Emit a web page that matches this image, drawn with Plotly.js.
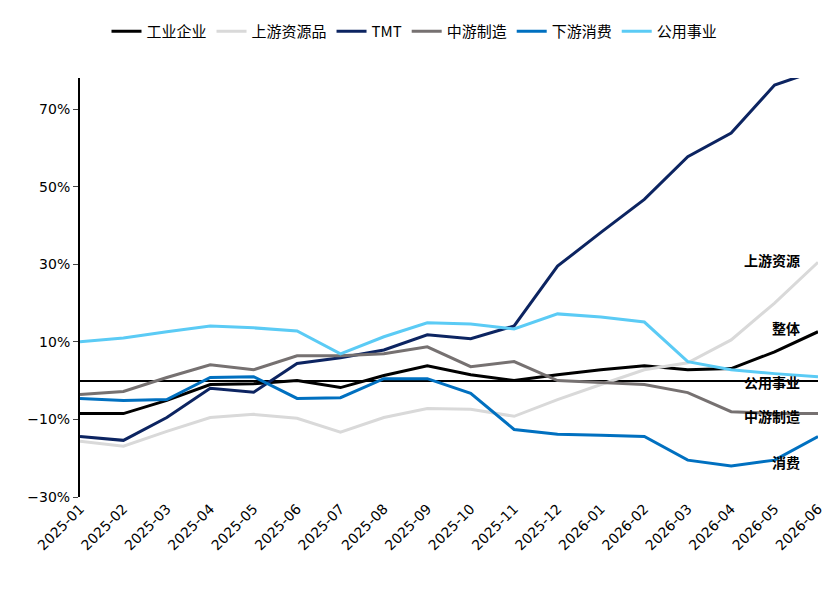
<!DOCTYPE html>
<html><head><meta charset="utf-8">
<script src="https://cdn.plot.ly/plotly-3.0.1.min.js"></script>
<style>body{margin:0}</style></head>
<body><div id="c" style="width:829px;height:604px"></div>
<script>
const months=["2025-01","2025-02","2025-03","2025-04","2025-05","2025-06","2025-07","2025-08","2025-09","2025-10","2025-11","2025-12","2026-01","2026-02","2026-03","2026-04","2026-05","2026-06"];
const industrial=[-8.5,-8.5,-5.1,-1,-0.8,0,-1.8,1.3,3.8,1.5,0,1.5,2.8,3.8,2.8,3.1,7.4,12.6];
const upstream=[-15.6,-16.9,-13.1,-9.5,-8.7,-9.7,-13.3,-9.5,-7.2,-7.4,-9.2,-4.9,-1,2.8,4.6,10.5,20,30.5];
const tmt=[-14.4,-15.4,-9.5,-2,-3,4.4,5.9,7.9,11.8,10.8,14.1,29.5,38.2,46.7,57.7,63.8,76.2,80];
const midstream=[-3.6,-2.8,0.8,4.1,2.8,6.4,6.4,6.9,8.7,3.6,4.9,0,-0.5,-1,-3.1,-8,-8.5,-8.5];
const downstream=[-4.6,-5.1,-4.9,0.8,1,-4.6,-4.4,0.5,0.5,-3.3,-12.6,-13.8,-14.1,-14.4,-20.5,-22,-20.5,-14.4];
const utilities=[10,11,12.6,14.1,13.6,12.8,6.9,11.3,14.9,14.6,13.3,17.2,16.4,15.1,4.9,2.8,1.8,1];
const names=["工业企业","上游资源品","TMT","中游制造","下游消费","公用事业"];
const series=[industrial,upstream,tmt,midstream,downstream,utilities];
const colors=["#000000","#d9d9d9","#0c2461","#767171","#0070c0","#5bcbf5"];
const traces=series.map((s,i)=>({x:months,y:s,name:names[i],type:"scatter",mode:"lines",line:{color:colors[i],width:3}}));
const endLabels=[["TMT",82],["上游资源",31],["整体",13.5],["公用事业",-0.3],["中游制造",-9],["消费",-21]];
const ann=endLabels.map(([t,v])=>({x:1,xref:"paper",y:v,yref:"y",xshift:-16,text:"<b>"+t+"</b>",showarrow:false,xanchor:"right",yanchor:"middle",font:{size:14,color:"#000"}}));
Plotly.newPlot("c",traces,{
 width:829,height:604,margin:{l:80,r:11,t:78,b:107},
 paper_bgcolor:"#fff",plot_bgcolor:"#fff",
 font:{family:"Noto Sans CJK SC, sans-serif",color:"#000"},
 showlegend:true,
 legend:{orientation:"h",x:0.5,xref:"container",xanchor:"center",y:0.975,yref:"container",yanchor:"top",font:{size:15},tracegroupgap:0,itemwidth:30},
 xaxis:{type:"category",range:[0,17],tickangle:-45,showgrid:false,zeroline:false,showline:false,ticks:"",tickfont:{size:14,family:"DejaVu Sans"}},
 yaxis:{range:[-30,78],tickvals:[-30,-10,10,30,50,70],ticktext:["−30%","−10%","10%","30%","50%","70%"],showgrid:false,zeroline:true,zerolinecolor:"#000",zerolinewidth:1.5,showline:true,linecolor:"#000",linewidth:2,ticks:"outside",ticklen:5,tickfont:{size:14,family:"DejaVu Sans"}},
 annotations:ann
},{displayModeBar:false});
</script></body></html>
